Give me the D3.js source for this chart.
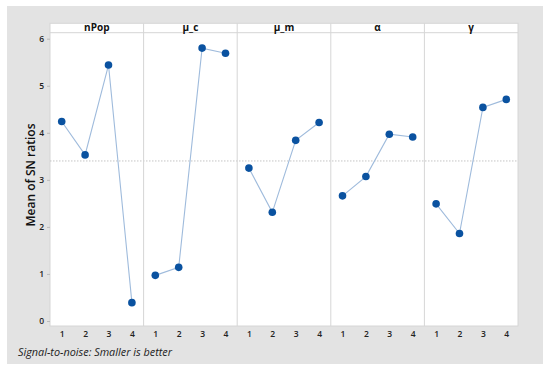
<!DOCTYPE html>
<html><head><meta charset="utf-8">
<script src="https://cdn.jsdelivr.net/npm/d3@7"></script>
<style>body{margin:0;background:#fff}svg{display:block}</style>
</head><body>
<script>
const factors = ["nPop", "μ_c", "μ_m", "α", "γ"];
const levels = [1, 2, 3, 4];
const nPop = [4.24, 3.53, 5.44, 0.39];
const mu_c = [0.97, 1.14, 5.80, 5.69];
const mu_m = [3.25, 2.31, 3.84, 4.22];
const alpha = [2.66, 3.07, 3.97, 3.91];
const gamma = [2.49, 1.86, 4.54, 4.71];
const yTicks = [0, 1, 2, 3, 4, 5, 6];
const yTitle = "Mean of SN ratios";
const footer = "Signal-to-noise: Smaller is better";

(function () {
const series = [nPop, mu_c, mu_m, alpha, gamma];
const W = 550, H = 372;
const svg = d3.select("body").append("svg").attr("width", W).attr("height", H);
svg.append("rect").attr("x", 7).attr("y", 6).attr("width", 536).attr("height", 358).attr("fill", "#e3e3e3");

const pL = 50, pR = 518, pT = 23.3, stripB = 32.7, pB = 326;
const pw = (pR - pL) / factors.length;
const y = d3.scaleLinear().domain([0, 6]).range([321, 38.7]);
const panelX = d3.scaleBand().domain(factors).range([pL, pR]).padding(0);
const x = d3.scalePoint().domain(levels).range([0, pw]).padding(0.5);

svg.append("rect").attr("x", pL).attr("y", pT).attr("width", pR - pL).attr("height", pB - pT)
  .attr("fill", "#fff").attr("stroke", "#d6d6d6").attr("stroke-width", 1);
svg.append("line").attr("x1", pL).attr("x2", pR).attr("y1", stripB).attr("y2", stripB).attr("stroke", "#d6d6d6");

const all = series.flat();
const mean = d3.mean(all);
svg.append("line").attr("x1", pL).attr("x2", pR).attr("y1", y(mean)).attr("y2", y(mean))
  .attr("stroke", "#c4c4c4").attr("stroke-dasharray", "1.5,1.5").attr("stroke-width", 1);

const font = "'Open Sans', 'Noto Sans', sans-serif";

factors.forEach((f, i) => {
  const g = svg.append("g").attr("transform", `translate(${panelX(f)},0)`);
  if (i > 0) g.append("line").attr("x1", 0).attr("x2", 0).attr("y1", pT).attr("y2", pB).attr("stroke", "#d6d6d6");
  g.append("text").attr("x", pw / 2).attr("y", 31).attr("text-anchor", "middle")
    .attr("font-family", font).attr("font-weight", 700).attr("font-size", 10).attr("fill", "#111").text(f);
  const data = series[i].map((v, j) => ({ l: levels[j], v }));
  g.append("path").datum(data).attr("fill", "none").attr("stroke", "#9fbbdc").attr("stroke-width", 1.1)
    .attr("d", d3.line().x(d => x(d.l)).y(d => y(d.v)));
  g.selectAll("circle").data(data).join("circle").attr("cx", d => x(d.l)).attr("cy", d => y(d.v))
    .attr("r", 3.8).attr("fill", "#0a52a0");
  const ax = g.append("g").attr("transform", `translate(0,${pB})`)
    .call(d3.axisBottom(x).tickSize(0).tickPadding(5));
  ax.select(".domain").remove();
  ax.selectAll("text").attr("font-family", font).attr("font-size", 8.5).attr("font-weight", 600).attr("fill", "#222");
});

const yax = svg.append("g").attr("transform", `translate(${pL},0)`)
  .call(d3.axisLeft(y).tickValues(yTicks).tickFormat(d3.format("d")).tickSize(3).tickPadding(3));
yax.select(".domain").remove();
yax.selectAll("line").attr("stroke", "#bbb");
yax.selectAll("text").attr("font-family", font).attr("font-size", 8.5).attr("font-weight", 600).attr("fill", "#222");

svg.append("text").attr("transform", `translate(34.5,175) rotate(-90)`).attr("text-anchor", "middle")
  .attr("font-family", font).attr("font-weight", 600).attr("font-size", 12).attr("fill", "#111").text(yTitle);

svg.append("text").attr("x", 18).attr("y", 356).attr("font-family", font).attr("font-style", "italic")
  .attr("font-size", 11.5).attr("fill", "#222")
  .attr("textLength", 154).attr("lengthAdjust", "spacingAndGlyphs").text(footer);
})();
</script>
</body></html>
